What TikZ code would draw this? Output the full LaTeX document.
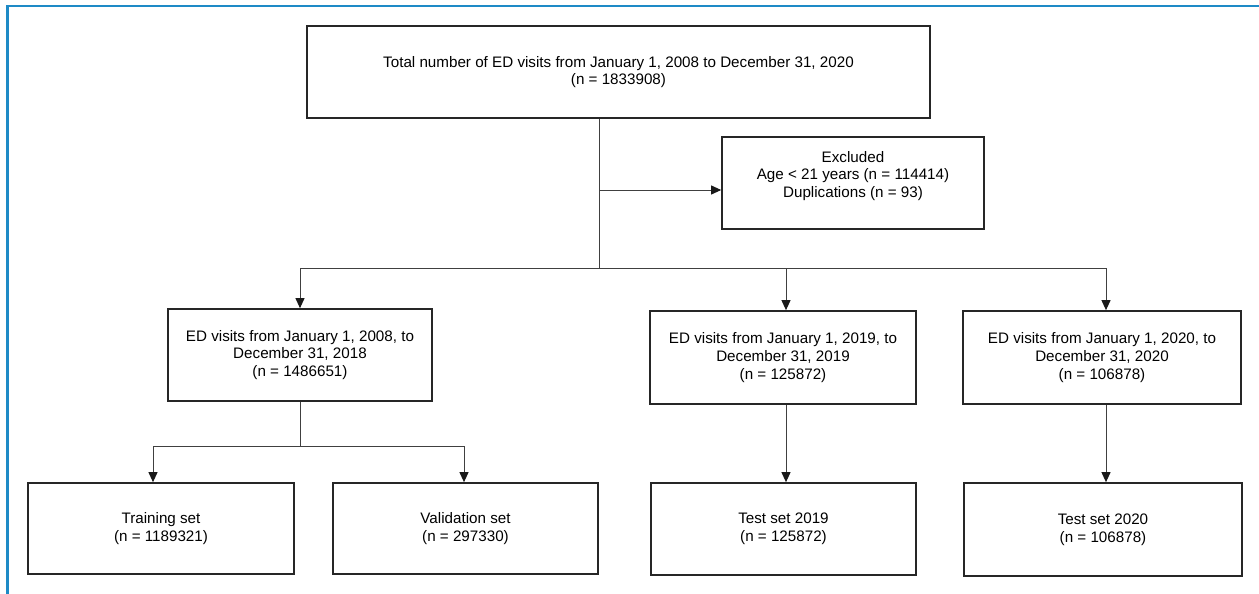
\documentclass[tikz,border=0pt]{standalone}
\usepackage{fontspec}
\setmainfont{Liberation Sans}
\usetikzlibrary{arrows.meta}
\definecolor{frameblue}{RGB}{30,138,198}
\tikzset{
  box/.style={draw=black!85, line width=1.7pt, fill=white, inner sep=0pt, align=center,
    font=\fontsize{15.2}{17.7}\selectfont},
  conn/.style={draw=black!75, line width=1pt},
  arr/.style={conn, -{Triangle[length=10pt,width=9pt,color=black!90]}},
  plain/.style={inner sep=0pt, align=center, font=\fontsize{15.2}{17.7}\selectfont}
}
\begin{document}
\begin{tikzpicture}[x=1pt,y=-1pt]
\useasboundingbox (0,0) rectangle (1259,594);
\fill[white] (0,0) rectangle (1259,594);
\draw[frameblue, line width=2.2pt] (7.5,594) -- (7.5,6) -- (1259,6);

\node[box, minimum width=623, minimum height=92] (top) at (618.5,72)
  {Total number of ED visits from January 1, 2008 to December 31, 2020\\(n = 1833908)};
\node[box, minimum width=262, minimum height=92] (exc) at (853,183) {};
\node[plain] (exctext) at (853,176) {Excluded\\Age < 21 years (n = 114414)\\Duplications (n = 93)};

\node[box, minimum width=264, minimum height=92] (m1) at (300,355)
  {ED visits from January 1, 2008, to\\December 31, 2018\\(n = 1486651)};
\node[box, minimum width=266, minimum height=93] (m2) at (783,357.5)
  {ED visits from January 1, 2019, to\\December 31, 2019\\(n = 125872)};
\node[box, minimum width=278, minimum height=93] (m3) at (1102,357.5)
  {ED visits from January 1, 2020, to\\December 31, 2020\\(n = 106878)};

\node[box, minimum width=266, minimum height=91] (b1) at (161,528.5)
  {Training set\\(n = 1189321)};
\node[box, minimum width=265, minimum height=91] (b2) at (465.5,528.5)
  {Validation set\\(n = 297330)};
\node[box, minimum width=265, minimum height=92] (b3) at (783.5,529)
  {Test set 2019\\(n = 125872)};
\node[box, minimum width=278, minimum height=93] (b4) at (1103,529.5)
  {Test set 2020\\(n = 106878)};

% top split
\coordinate (t0) at ([xshift=-19.5pt]top.south);
\coordinate (j0) at (599,268);
\coordinate (ea) at (599,190);
\draw[conn] (t0) -- (j0);
\draw[arr] (ea) -- (ea -| exc.west);
\draw[arr] (j0) -| (m1.north);
\draw[arr] (j0) -| ([xshift=3pt]m2.north);
\draw[arr] (j0) -| ([xshift=4pt]m3.north);

% lower split
\coordinate (j1) at (300,446);
\draw[conn] (m1.south) -- (j1);
\draw[arr] (j1) -| ([xshift=-8pt]b1.north);
\draw[arr] (j1) -| ([xshift=-1.5pt]b2.north);
\draw[arr] ([xshift=3pt]m2.south) -- ([xshift=2.5pt]b3.north);
\draw[arr] ([xshift=4pt]m3.south) -- ([xshift=3pt]b4.north);
\end{tikzpicture}
\end{document}
